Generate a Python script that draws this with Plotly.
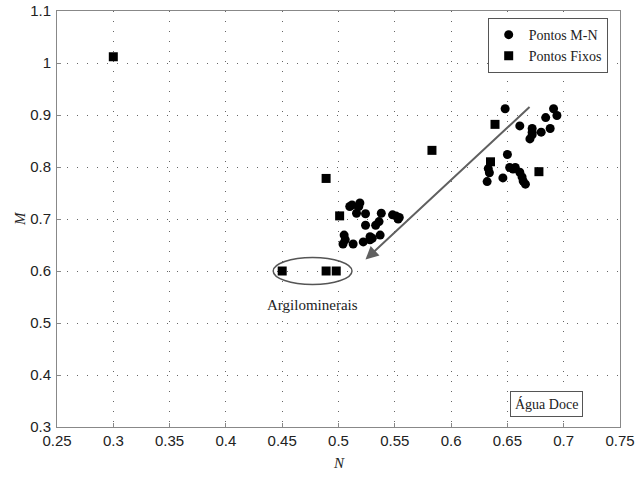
import plotly.graph_objects as go

# Pontos M-N (circles)
mn_N = [0.510, 0.512, 0.519, 0.518, 0.516, 0.524, 0.538, 0.548, 0.551, 0.554, 0.553,
        0.536, 0.533, 0.524, 0.505, 0.506, 0.504, 0.513, 0.522, 0.528, 0.530, 0.537, 0.528,
        0.648, 0.661, 0.691, 0.694, 0.684, 0.688, 0.680, 0.672, 0.672, 0.672, 0.670,
        0.650, 0.633, 0.634, 0.632, 0.646, 0.652, 0.655, 0.657, 0.661, 0.663, 0.664, 0.666]
mn_M = [0.724, 0.727, 0.731, 0.724, 0.711, 0.710, 0.711, 0.708, 0.706, 0.703, 0.700,
        0.695, 0.688, 0.688, 0.669, 0.660, 0.652, 0.652, 0.656, 0.666, 0.663, 0.669, 0.660,
        0.912, 0.879, 0.912, 0.899, 0.895, 0.874, 0.867, 0.874, 0.867, 0.862, 0.854,
        0.824, 0.797, 0.789, 0.772, 0.779, 0.799, 0.796, 0.799, 0.790, 0.781, 0.773, 0.767]

# Pontos Fixos (squares)
fx_N = [0.300, 0.489, 0.501, 0.450, 0.489, 0.498, 0.583, 0.639, 0.635, 0.678]
fx_M = [1.012, 0.778, 0.706, 0.600, 0.600, 0.600, 0.832, 0.882, 0.810, 0.791]

x_ticks = [0.25, 0.3, 0.35, 0.4, 0.45, 0.5, 0.55, 0.6, 0.65, 0.7, 0.75]
y_ticks = [0.3, 0.4, 0.5, 0.6, 0.7, 0.8, 0.9, 1, 1.1]

serif = "Liberation Serif, Times New Roman, serif"
sans = "Liberation Sans, Arial, sans-serif"

fig = go.Figure()
fig.add_trace(go.Scatter(x=mn_N, y=mn_M, mode="markers", name="Pontos M-N",
                         marker=dict(symbol="circle", size=9, color="black")))
fig.add_trace(go.Scatter(x=fx_N, y=fx_M, mode="markers", name="Pontos Fixos",
                         marker=dict(symbol="square", size=9, color="black")))

# ellipse around clay minerals
fig.add_shape(type="circle", xref="x", yref="y", x0=0.442, x1=0.512, y0=0.574, y1=0.626,
              line=dict(color="#555555", width=1.5))

fig.add_annotation(x=0.477, y=0.535, text="Argilominerais", showarrow=False,
                   font=dict(family=serif, size=15, color="#222"))

# arrow
fig.add_annotation(x=0.524, y=0.622, ax=0.671, ay=0.918, xref="x", yref="y",
                   axref="x", ayref="y", text="", showarrow=True,
                   arrowhead=2, arrowsize=1.3, arrowwidth=2, arrowcolor="#606060")

fig.add_annotation(x=0.685, y=0.344, text="Água Doce", showarrow=False,
                   font=dict(family=serif, size=14, color="#222"),
                   bordercolor="#555555", borderwidth=1, borderpad=4, bgcolor="white")

# axis titles
fig.add_annotation(x=0.5, y=-0.0865, xref="paper", yref="paper", text="<i>N</i>",
                   showarrow=False, xanchor="center", yanchor="middle",
                   font=dict(family=serif, size=15, color="#222"))
fig.add_annotation(x=-0.0657, y=0.7, xref="paper", yref="y", text="<i>M</i>",
                   showarrow=False, xanchor="center", yanchor="middle", textangle=-90,
                   font=dict(family=serif, size=15, color="#222"))

axis_common = dict(showline=True, linecolor="#888888", linewidth=1, mirror=True,
                   ticks="inside", ticklen=4, tickcolor="#888888",
                   showgrid=True, gridcolor="#666666", gridwidth=1, griddash="1px,9px",
                   zeroline=False, automargin=False,
                   tickfont=dict(family=sans, size=15, color="#222"))

fig.update_xaxes(range=[0.25, 0.75], tickvals=x_ticks, ticktext=[str(t) for t in x_ticks],
                 ticklabelstandoff=0, **axis_common)
fig.update_yaxes(range=[0.3, 1.1], tickvals=y_ticks, ticktext=[str(t) for t in y_ticks],
                 ticklabelstandoff=2, **axis_common)

fig.update_layout(width=642, height=478, margin=dict(l=57, r=22, t=11, b=51),
                  plot_bgcolor="white", paper_bgcolor="white", showlegend=True,
                  legend=dict(x=0.765, y=0.983, xanchor="left", yanchor="top",
                              bordercolor="#555555", borderwidth=1, bgcolor="white",
                              font=dict(family=serif, size=14, color="#222"),
                              itemwidth=30, tracegroupgap=0, entrywidth=94))

fig.write_html("out.html", config={"displayModeBar": False},
               post_script="document.body.style.margin='0';")
